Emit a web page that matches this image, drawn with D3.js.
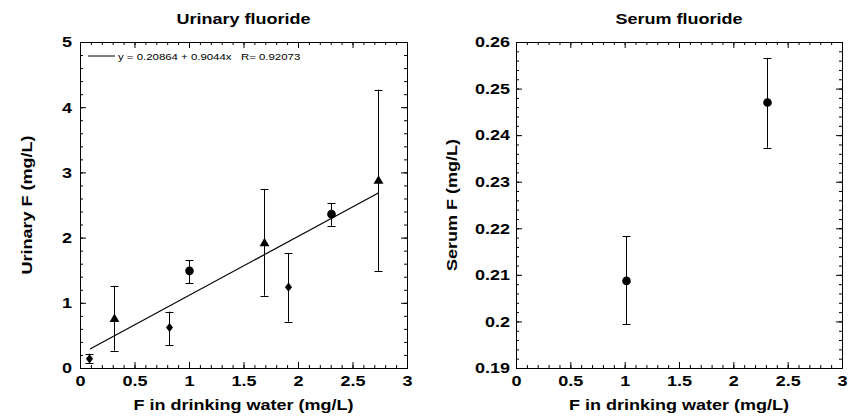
<!DOCTYPE html>
<html>
<head>
<meta charset="utf-8">
<script src="https://cdn.jsdelivr.net/npm/d3@7"></script>
<style>
body { margin: 0; background: #fff; }
text { font-family: "Liberation Sans", Arial, sans-serif; }
</style>
</head>
<body>
<div id="chart"></div>
<script>
// urinary fluoride panel
var urineX = [0.085, 0.315, 0.817, 1.0, 1.688, 1.905, 2.30, 2.737]
var urineY = [0.14, 0.75, 0.62, 1.49, 1.91, 1.24, 2.36, 2.87]
var urineLo = [0.08, 0.265, 0.353, 1.30, 1.11, 0.71, 2.18, 1.49]
var urineHi = [0.22, 1.26, 0.865, 1.65, 2.745, 1.76, 2.53, 4.27]
var urineShape = ["diamond", "triangle", "diamond", "circle", "triangle", "diamond", "circle", "triangle"]
var fitA = 0.20864, fitB = 0.9044
var fitRange = [0.092, 2.737]
var fitLabel = "y = 0.20864 + 0.9044x   R= 0.92073"

// serum fluoride panel
var serumX = [1.01, 2.31]
var serumY = [0.2087, 0.247]
var serumLo = [0.1994, 0.2373]
var serumHi = [0.2183, 0.2565]
var serumShape = ["circle", "circle"]

var xTicks = [0, 0.5, 1, 1.5, 2, 2.5, 3]
var urineTicks = [0, 1, 2, 3, 4, 5]
var serumTicks = [0.19, 0.2, 0.21, 0.22, 0.23, 0.24, 0.25, 0.26]

var W = 849, H = 418
var top_ = 42, bottom_ = 368
var stretchK = 1.2

var svg = d3.select("#chart").append("svg")
    .attr("width", W)
    .attr("height", H)

/*diamond a bit wider than d3's own*/
var wideDiamond = {
    draw: function(ctx, size) {
        var h = Math.sqrt(size / 1.5), w = h * 0.78
        ctx.moveTo(0, -h)
        ctx.lineTo(w, 0)
        ctx.lineTo(0, h)
        ctx.lineTo(-w, 0)
        ctx.closePath()
    }
}

var symbols = {
    circle: d3.symbol().type(d3.symbolCircle).size(58),
    triangle: d3.symbol().type(d3.symbolTriangle).size(42),
    diamond: d3.symbol().type(wideDiamond).size(31)
}

function styleAxis(g) {
    g.selectAll("path, line").attr("stroke", "#000")
    g.selectAll("text")
        .attr("font-family", "'Liberation Sans', Arial, sans-serif")
        .attr("font-size", 15)
        .attr("font-weight", "bold")
        .attr("fill", "#000")
}

function drawPanel(opt) {
    var x = d3.scaleLinear().domain([0, 3]).range([opt.left, opt.right])
    var y = d3.scaleLinear().domain([opt.yTicks[0], opt.yTicks[opt.yTicks.length - 1]]).range([bottom_, top_])

    var minorX = d3.range(0, 31).map(function(i) { return i / 10 })
    var minorY = d3.range(0, opt.yMinorN + 1).map(function(i) { return y.domain()[0] + i * opt.yMinorStep })

    var g = svg.append("g")

    // minor ticks
    g.append("g").attr("transform", "translate(0," + bottom_ + ")")
        .call(d3.axisBottom(x).tickValues(minorX).tickSize(-3).tickSizeOuter(0).tickFormat(""))
        .call(styleAxis)
    g.append("g").attr("transform", "translate(0," + top_ + ")")
        .call(d3.axisTop(x).tickValues(minorX).tickSize(-3).tickSizeOuter(0).tickFormat(""))
        .call(styleAxis)
    g.append("g").attr("transform", "translate(" + opt.left + ",0)")
        .call(d3.axisLeft(y).tickValues(minorY).tickSize(-3).tickSizeOuter(0).tickFormat(""))
        .call(styleAxis)
    g.append("g").attr("transform", "translate(" + opt.right + ",0)")
        .call(d3.axisRight(y).tickValues(minorY).tickSize(-3).tickSizeOuter(0).tickFormat(""))
        .call(styleAxis)

    // major ticks + labels
    g.append("g").attr("transform", "translate(0," + bottom_ + ")")
        .call(d3.axisBottom(x).tickValues(xTicks).tickSize(-6).tickSizeOuter(0).tickPadding(7).tickFormat(String))
        .call(styleAxis)
    g.append("g").attr("transform", "translate(0," + top_ + ")")
        .call(d3.axisTop(x).tickValues(xTicks).tickSize(-6).tickSizeOuter(0).tickFormat(""))
        .call(styleAxis)
    g.append("g").attr("transform", "translate(" + opt.left + ",0)")
        .call(d3.axisLeft(y).tickValues(opt.yTicks).tickSize(-6).tickSizeOuter(0).tickPadding(opt.yPad).tickFormat(String))
        .call(styleAxis)
    g.append("g").attr("transform", "translate(" + opt.right + ",0)")
        .call(d3.axisRight(y).tickValues(opt.yTicks).tickSize(-6).tickSizeOuter(0).tickFormat(""))
        .call(styleAxis)

    // fit line
    if (opt.fit) {
        g.append("line")
            .attr("x1", x(opt.fit.range[0])).attr("y1", y(opt.fit.a + opt.fit.b * opt.fit.range[0]))
            .attr("x2", x(opt.fit.range[1])).attr("y2", y(opt.fit.a + opt.fit.b * opt.fit.range[1]))
            .attr("stroke", "#000").attr("stroke-width", 1.2)

        g.append("line")
            .attr("x1", opt.left + 8).attr("x2", opt.left + 35)
            .attr("y1", 56).attr("y2", 56)
            .attr("stroke", "#000").attr("stroke-width", 1)
        g.append("text")
            .attr("x", opt.left + 38).attr("y", 59.5)
            .attr("font-size", 9.5)
            .attr("xml:space", "preserve")
            .style("white-space", "pre")
            .text(opt.fit.label)
    }

    var pts = opt.xs.map(function(v, i) {
        return {x: v, y: opt.ys[i], lo: opt.lo[i], hi: opt.hi[i], shape: opt.shape[i]}
    })

    // error bars
    var eb = g.selectAll(".err").data(pts).enter().append("g").attr("class", "err")
        .attr("stroke", "#000").attr("stroke-width", 1)
    eb.append("line")
        .attr("x1", function(d) { return Math.round(x(d.x)) + 0.5 })
        .attr("x2", function(d) { return Math.round(x(d.x)) + 0.5 })
        .attr("y1", function(d) { return y(d.lo) })
        .attr("y2", function(d) { return y(d.hi) })
    eb.selectAll(".cap").data(function(d) { return [[d.x, d.lo], [d.x, d.hi]] })
        .enter().append("line")
        .attr("x1", function(d) { return Math.round(x(d[0])) + 0.5 - 4 })
        .attr("x2", function(d) { return Math.round(x(d[0])) + 0.5 + 4 })
        .attr("y1", function(d) { return Math.round(y(d[1])) + 0.5 })
        .attr("y2", function(d) { return Math.round(y(d[1])) + 0.5 })

    // markers
    g.selectAll(".pt").data(pts).enter().append("path")
        .attr("class", "pt")
        .attr("d", function(d) { return symbols[d.shape]() })
        .attr("transform", function(d) { return "translate(" + (Math.round(x(d.x)) + 0.5) + "," + y(d.y) + ")" })
        .attr("fill", "#000")

    // titles and labels
    var cx = (opt.left + opt.right) / 2
    g.append("text")
        .attr("x", cx).attr("y", 24)
        .attr("text-anchor", "middle")
        .attr("font-size", 15).attr("font-weight", "bold")
        .text(opt.title)
    g.append("text")
        .attr("x", cx).attr("y", 410)
        .attr("text-anchor", "middle")
        .attr("font-size", 15).attr("font-weight", "bold")
        .text("F in drinking water (mg/L)")
    g.append("text")
        .attr("transform", "translate(" + opt.yLabelX + "," + 205 + ") rotate(-90)")
        .attr("text-anchor", "middle")
        .attr("font-size", 15).attr("font-weight", "bold")
        .text(opt.yLabel)
}

drawPanel({
    left: 80, right: 407,
    yTicks: urineTicks, yMinorN: 25, yMinorStep: 0.2, yPad: 8,
    xs: urineX, ys: urineY, lo: urineLo, hi: urineHi, shape: urineShape,
    fit: {a: fitA, b: fitB, range: fitRange, label: fitLabel},
    title: "Urinary fluoride", yLabel: "Urinary F (mg/L)", yLabelX: 32
})

drawPanel({
    left: 516, right: 842,
    yTicks: serumTicks, yMinorN: 35, yMinorStep: 0.002, yPad: 6,
    xs: serumX, ys: serumY, lo: serumLo, hi: serumHi, shape: serumShape,
    title: "Serum fluoride", yLabel: "Serum F (mg/L)", yLabelX: 457
})

// the original type is wider than Arial; stretch every label horizontally
svg.selectAll("text").each(function() {
    var w = this.getComputedTextLength()
    d3.select(this).attr("textLength", w * stretchK).attr("lengthAdjust", "spacingAndGlyphs")
})
</script>
</body>
</html>
